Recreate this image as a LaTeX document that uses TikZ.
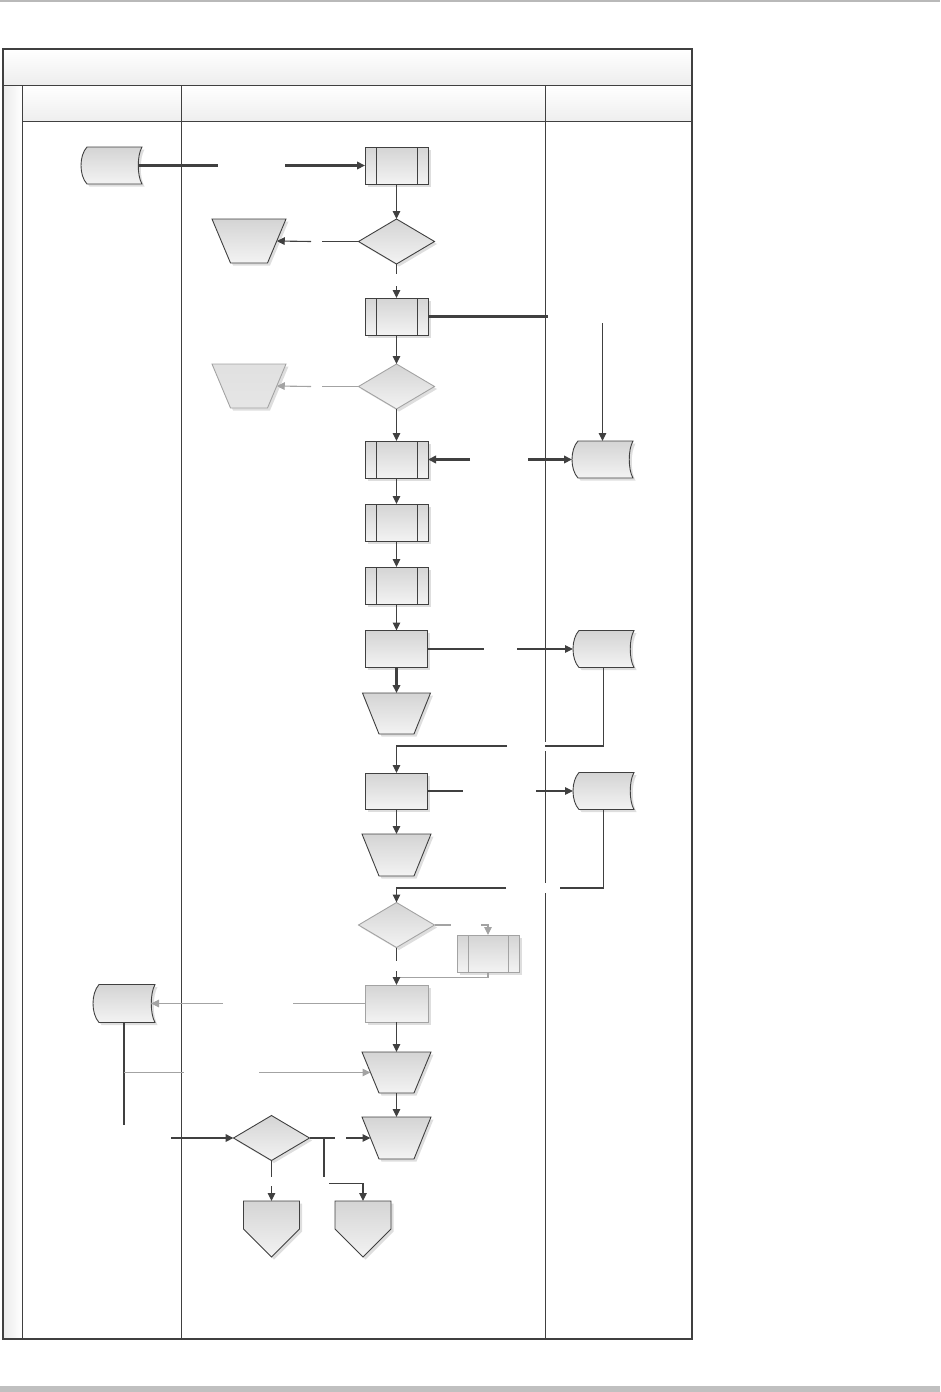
\documentclass[tikz,border=0pt]{standalone}
\usetikzlibrary{arrows.meta,shapes.geometric,calc,shadows}
\definecolor{lineC}{HTML}{404040}
\definecolor{lightC}{HTML}{A3A3A3}
\definecolor{fillT}{HTML}{D4D4D4}
\definecolor{fillB}{HTML}{F3F3F3}
\definecolor{bandC}{HTML}{C0C0C0}
\newcommand\storeP[2][sh]{\path[#1] ($(#2.north west)+(6,0)$) -- (#2.north east) .. controls ($(#2.east)+(-5,-10)$) and ($(#2.east)+(-5,10)$) .. (#2.south east) -- ($(#2.south west)+(6,0)$) .. controls ($(#2.west)+(-2,10)$) and ($(#2.west)+(-2,-10)$) .. cycle;}
\newcommand\trapP[3][sh]{\path[#1] (#2.north west) -- (#2.north east) -- ($(#2.south east)+(-#3,0)$) -- ($(#2.south west)+(#3,0)$) -- cycle;}
\newcommand\offP[2][sh]{\path[#1] (#2.north west) -- (#2.north east) -- (#2.east) -- (#2.south) -- (#2.west) -- cycle;}
\newcommand\predefL[2][lineC]{\draw[#1, line width=0.9pt] ([xshift=11pt]#2.north west) -- ([xshift=11pt]#2.south west) ([xshift=-11pt]#2.north east) -- ([xshift=-11pt]#2.south east);}
\tikzset{
  ln/.style={draw=lineC, line width=1.1pt},
  thk/.style={draw=lineC, line width=2.3pt},
  lt/.style={draw=lightC, line width=1.1pt},
  arr/.style={-{Triangle[length=8pt,width=7.5pt]}},
  sh/.style={draw=lineC, line width=0.9pt, top color=fillT, bottom color=fillB,
    drop shadow={shadow xshift=2.5pt, shadow yshift=-2.5pt, fill=black, opacity=0.13}},
  shl/.style={sh, draw=lightC},
  shf/.style={sh, draw=lightC, top color=gray!24, bottom color=gray!20},
  hold/.style={draw=none, inner sep=0pt, outer sep=0pt, minimum width=#1},
  procbox/.style={sh, rectangle, inner sep=0pt, outer sep=0pt, minimum width=63pt, minimum height=37pt},
  dec/.style={sh, diamond, inner sep=0pt, outer sep=0pt, minimum width=76pt, minimum height=45pt},
  frameln/.style={draw=lineC, line width=1pt},
}
\begin{document}
\begin{tikzpicture}[x=1pt,y=-1pt]
\useasboundingbox (0,0) rectangle (940,1392);
% page decorations
\draw[gray!55, line width=1.2pt] (0,1) -- (940,1);
\fill[bandC] (0,1386) rectangle (940,1392);
% pool
\shade[top color=white, bottom color=gray!14] (3,49) rectangle (692,85);
\shade[top color=white, bottom color=gray!13] (22,85) rectangle (692,121);
\shade[left color=gray!16, right color=white] (3,85) rectangle (22,1339);
\draw[frameln] (3,85) -- (692,85);
\draw[frameln] (22,121) -- (692,121);
\draw[frameln] (22,85) -- (22,1339);
\draw[frameln] (181,85) -- (181,1339);
\draw[frameln] (545,85) -- (545,742) (545,751) -- (545,883) (545,893) -- (545,1339);
\draw[draw=lineC, line width=1.6pt] (3,49) rectangle (692,1339);

% ---------- shapes ----------
\node[hold=61pt, minimum height=37pt] (s1) at (111.5,165.5) {};
\storeP{s1}
\node[procbox] (p1) at (396.5,165.5) {}; \predefL{p1}
\node[dec] (d1) at (396.5,241.5) {};
\node[hold=74pt, minimum height=44pt] (t1) at (249,241) {};
\trapP{t1}{18.5}
\node[procbox] (p2) at (396.5,316.5) {}; \predefL{p2}
\node[dec, draw=lightC] (d2) at (396.5,386.5) {};
\node[hold=74pt, minimum height=44pt] (t2) at (249,386) {};
\trapP[shf]{t2}{18.5}
\node[procbox] (p3) at (396.5,459.5) {}; \predefL{p3}
\node[hold=61pt, minimum height=37pt] (s2) at (602.5,459.5) {};
\storeP{s2}
\node[procbox] (p4) at (396.5,522.5) {}; \predefL{p4}
\node[procbox] (p5) at (396.5,585.5) {}; \predefL{p5}
\node[procbox, minimum width=62pt] (r6) at (396.5,649) {};
\node[hold=68pt, minimum height=41pt] (t3) at (396.5,713.5) {};
\trapP{t3}{16.5}
\node[hold=61pt, minimum height=37pt] (s3) at (603.5,649) {};
\storeP{s3}
\node[procbox, minimum width=62pt, minimum height=36pt] (r7) at (396.5,791) {};
\node[hold=61pt, minimum height=37pt] (s4) at (603.5,791) {};
\storeP{s4}
\node[hold=69pt, minimum height=42pt] (t4) at (396.5,855) {};
\trapP{t4}{17}
\node[dec, draw=lightC] (d3) at (396.5,925) {};
\node[procbox, draw=lightC, minimum width=62pt] (p8) at (488,953.5) {}; \predefL[lightC]{p8}
\node[procbox, draw=lightC] (r9) at (396.5,1003.5) {};
\node[hold=62pt, minimum height=38pt] (s5) at (124,1003.5) {};
\storeP{s5}
\node[hold=69pt, minimum height=41pt] (t5) at (396.5,1072.5) {};
\trapP{t5}{17}
\node[hold=69pt, minimum height=42pt] (t6) at (396.5,1138) {};
\trapP{t6}{17}
\node[dec] (d4) at (271.5,1138) {};
\node[hold=56pt, minimum height=56pt] (o1) at (271.5,1229) {};
\offP{o1}
\node[hold=56pt, minimum height=56pt] (o2) at (363,1229) {};
\offP{o2}

% ---------- connectors ----------
\coordinate (c1a) at (218,165.5); \coordinate (c1b) at (285,165.5);
\draw[thk] ([xshift=-4pt]s1.east) -- (c1a);
\draw[thk,arr] (c1b) -- (p1.west);
\draw[ln,arr] (p1.south) -- (d1.north);
\coordinate (c3a) at (322,241.5); \coordinate (c3b) at (311,241.5);
\draw[ln] (d1.west) -- (c3a);
\draw[ln,arr] (c3b) -- ($(t1.east)+(-9.25,0)$);
\coordinate (c4a) at (396.5,274); \coordinate (c4b) at (396.5,286);
\draw[ln] (d1.south) -- (c4a);
\draw[ln,arr] (c4b) -- (p2.north);
\coordinate (c5) at (548,316.5);
\draw[thk] (p2.east) -- (c5);
\coordinate (c6) at (602.5,323);
\draw[ln,arr] (c6) -- (s2.north);
\draw[ln,arr] (p2.south) -- (d2.north);
\coordinate (c8a) at (322,386.5); \coordinate (c8b) at (311,386.5);
\draw[lt] (d2.west) -- (c8a);
\draw[lt,arr] (c8b) -- ($(t2.east)+(-9.25,0)$);
\draw[ln,arr] (d2.south) -- (p3.north);
\coordinate (c10a) at (470,459.5); \coordinate (c10b) at (528,459.5);
\draw[thk,arr] (c10a) -- (p3.east);
\draw[thk,arr] (c10b) -- (s2.west);
\draw[ln,arr] (p3.south) -- (p4.north);
\draw[ln,arr] (p4.south) -- (p5.north);
\draw[ln,arr] (p5.south) -- (r6.north);
\coordinate (c12a) at (484,649); \coordinate (c12b) at (517,649);
\draw[ln, line width=1.4pt] (r6.east) -- (c12a);
\draw[ln,arr] (c12b) -- (s3.west);
\draw[thk,arr] (r6.south) -- (t3.north);
\coordinate (c14a) at (545,746); \coordinate (c14b) at (507,746);
\draw[ln] (s3.south) |- (c14a);
\draw[ln,arr] (c14b) -| (r7.north);
\coordinate (c15a) at (463,791); \coordinate (c15b) at (536,791);
\draw[ln] (r7.east) -- (c15a);
\draw[ln,arr] (c15b) -- (s4.west);
\draw[ln,arr] (r7.south) -- (t4.north);
\coordinate (c17a) at (560,888); \coordinate (c17b) at (506,888);
\draw[ln] (s4.south) |- (c17a);
\draw[ln,arr] (c17b) -| (d3.north);
\coordinate (c18a) at (451,925); \coordinate (c18b) at (481,925);
\draw[lt] (d3.east) -- (c18a);
\draw[lt,arr] (c18b) -| (p8.north);
\coordinate (c19) at (396.5,977.3);
\draw[lt] (p8.south) |- (c19);
\coordinate (c19a) at (396.5,961); \coordinate (c19b) at (396.5,971);
\draw[ln] (d3.south) -- (c19a);
\draw[ln,arr] (c19b) -- (r9.north);
\coordinate (c20a) at (293,1003.5); \coordinate (c20b) at (223,1003.5);
\draw[lt] (r9.west) -- (c20a);
\draw[lt,arr] (c20b) -- ([xshift=-4pt]s5.east);
\coordinate (c21) at (124,1125);
\draw[ln] (s5.south) -- (c21);
\coordinate (c21j) at (124,1072.5); \coordinate (c21a) at (184,1072.5); \coordinate (c21b) at (259,1072.5);
\draw[lt] (c21j) -- (c21a);
\draw[lt,arr] (c21b) -- ($(t5.west)+(8.5,0)$);
\draw[ln,arr] (r9.south) -- (t5.north);
\draw[ln,arr] (t5.south) -- (t6.north);
\coordinate (c24) at (171,1138);
\draw[thk,arr] (c24) -- (d4.west);
\coordinate (c25a) at (335,1138); \coordinate (c25b) at (346,1138);
\draw[ln] (d4.east) -- (c25a);
\draw[ln,arr] (c25b) -- ($(t6.west)+(8.5,0)$);
\coordinate (c26j) at (324,1138); \coordinate (c26a) at (324,1177.3); \coordinate (c26b) at (329,1183.3);
\draw[ln] (c26j) -- (c26a);
\draw[ln,arr] (c26b) -| (o2.north);
\coordinate (c27a) at (271.5,1176.7); \coordinate (c27b) at (271.5,1186);
\draw[ln] (d4.south) -- (c27a);
\draw[ln,arr] (c27b) -- (o1.north);
\end{tikzpicture}
\end{document}
